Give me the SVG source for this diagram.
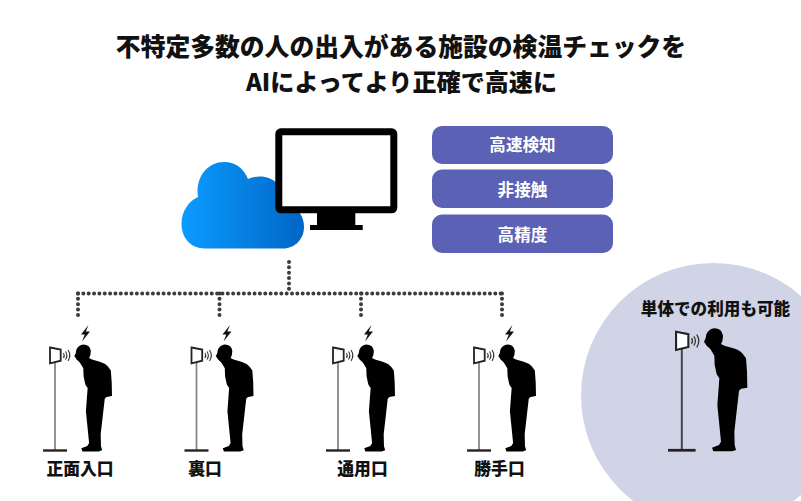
<svg xmlns="http://www.w3.org/2000/svg" width="801" height="501" viewBox="0 0 801 501">
<style>
text{font-family:"Noto Sans CJK JP","Noto Sans",sans-serif;font-weight:900;fill:#111;text-anchor:middle}
.pill{fill:#5b61b5}
.pt{fill:#fff;font-size:16.6px;font-weight:700}
.lb{font-size:16.8px}
.dots{fill:none;stroke:#3c3c3c;stroke-width:4;stroke-linecap:round;stroke-dasharray:0 5.35}
</style>
<defs>
<linearGradient id="cg" x1="0" x2="1" y1="0" y2="0"><stop offset="0" stop-color="#0b9cff"/><stop offset="1" stop-color="#0066c6"/></linearGradient>
<g id="user">
<path d="M55 362V450" stroke="currentColor" stroke-width="1.700" fill="none"/>
<path d="M43 450.500H67" stroke="#2a2020" stroke-width="2.400" fill="none"/>
<path d="M50 347.500L60.700 349.500V360.700L50 363.300Z" fill="#fff" stroke="#222" stroke-width="1.800"/>
<path d="M63.500 353q1.500 2.500 0 5M65.500 351.500q2.700 4 0 8M68 350q3.600 5.500 0 11" stroke="#333" stroke-width="1.100" fill="none"/>
<path transform="translate(40.390 341.570) scale(.2899)" d="M124 28Q132 11 148 10Q170 10 174 32Q174 48 168 57L178 62L205 70Q224 76 233 86L243 100L246 140L247 188L228 191L222 197L216 250L208 320L209 360L213 375L201 379L145 379L141 368L162 360L168 350L163 300L157 240L160 200L163 160L155 148L149 120L148 92L136 72L125 62L117 50L122 40Z" fill="#000"/>
</g>
<path id="bolt" d="M88.500 325L81 334.500H84.800L82 341.500L90 331.500H85.800Z" fill="#111"/>
</defs>
<rect width="801" height="501" fill="#fff"/>
<circle cx="713.500" cy="395.500" r="132.500" fill="#d0d4e6"/>
<g id="title"><text x="401" y="55.500" font-size="24.800">不特定多数の人の出入がある施設の検温チェックを</text><text x="401.500" y="91" font-size="24.100">AIによってより正確で高速に</text></g>
<g id="connectors">
<path class="dots" d="M289 262V293"/>
<path class="dots" d="M78 293.500H502"/>
<path class="dots" d="M78 293.500V320M219.500 293.500V320M361 293.500V320M502 293.500V320"/>
</g>
<g id="cloud"><path d="M205 248.500C190 248.500 181.500 237 181.500 224C181.500 211 189 201 198 197C195 178 207 162 224 162C236 162 244 169 248 179C260 174 270 177 277 183C287 190 290 198 289 205C299 209 304 217 304 227C304 239 295 248.500 283 248.500Z" fill="url(#cg)"/></g>
<g id="monitor">
<rect x="317" y="212" width="38.300" height="14" fill="#000"/>
<rect x="310" y="225" width="52.700" height="5" fill="#000"/>
<rect x="278.800" y="131.800" width="115" height="78" rx="2" fill="#fff" stroke="#000" stroke-width="7"/>
</g>
<g id="pill1"><rect class="pill" x="432" y="126" width="181" height="38" rx="10"/><text class="pt" x="522.500" y="151">高速検知</text></g>
<g id="pill2"><rect class="pill" x="432" y="169.500" width="181" height="38.500" rx="10"/><text class="pt" x="522.500" y="196">非接触</text></g>
<g id="pill3"><rect class="pill" x="432" y="214.500" width="181" height="38.500" rx="10"/><text class="pt" x="522.500" y="241">高精度</text></g>
<g id="unit1" color="#808080"><use href="#user"/><use href="#bolt"/><text class="lb" x="80" y="475">正面入口</text></g>
<g id="unit2" color="#808080"><use href="#user" x="141.500"/><use href="#bolt" x="141.500"/><text class="lb" x="205" y="475">裏口</text></g>
<g id="unit3" color="#808080"><use href="#user" x="283"/><use href="#bolt" x="283"/><text class="lb" x="362.500" y="475">通用口</text></g>
<g id="unit4" color="#808080"><use href="#user" x="424"/><use href="#bolt" x="424"/><text class="lb" x="499.500" y="475">勝手口</text></g>
<g id="standalone" color="#444"><text x="715.500" y="315" font-size="16.600">単体での利用も可能</text><use href="#user" transform="translate(618.550 -67.800) scale(1.150)"/></g>
</svg>
